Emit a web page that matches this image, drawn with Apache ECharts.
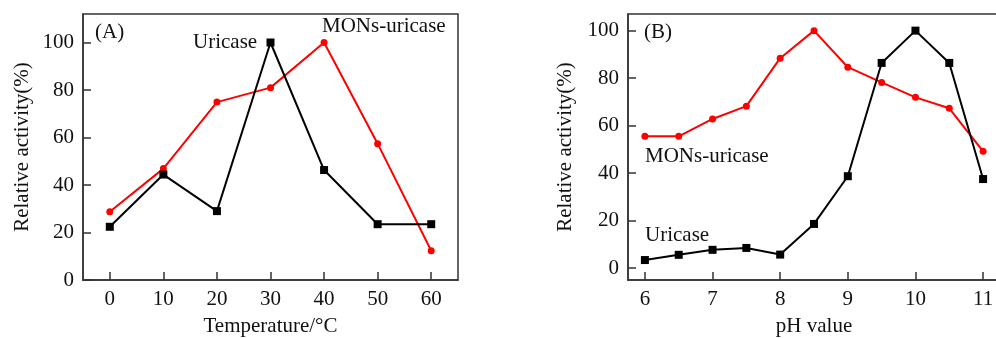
<!DOCTYPE html>
<html>
<head>
<meta charset="utf-8">
<script src="https://cdn.jsdelivr.net/npm/echarts@6/dist/echarts.min.js"></script>
<style>
html, body { margin: 0; padding: 0; background: #fff; }
#chart { width: 996px; height: 338px; }
</style>
</head>
<body>
<div id="chart"></div>
<script>
// panel A: temperature
var tempX = [0, 10, 20, 30, 40, 50, 60];
var tempUricase = [22.4, 44.4, 29.0, 100, 46.3, 23.5, 23.5];
var tempMons = [28.7, 46.9, 74.9, 81.0, 100, 57.4, 12.3];
var tempTicks = [0, 10, 20, 30, 40, 50, 60];

// panel B: pH
var phX = [6, 6.5, 7, 7.5, 8, 8.5, 9, 9.5, 10, 10.5, 11];
var phUricase = [3.4, 5.6, 7.7, 8.5, 5.7, 18.6, 38.7, 86.4, 100, 86.4, 37.5];
var phMons = [55.5, 55.5, 62.8, 68.2, 88.4, 100, 84.6, 78.2, 71.9, 67.3, 49.2];
var phTicks = [6, 7, 8, 9, 10, 11];

var yTicks = [0, 20, 40, 60, 80, 100];

function pairs(xs, ys) {
    return xs.map(function (x, i) { return [x, ys[i]]; });
}

var font = 'Liberation Serif';
var axisColor = '#333';

function xAxisOf(idx, min, max, ticks, name) {
    return {
        type: 'value', gridIndex: idx, min: min, max: max,
        name: name, nameLocation: 'middle', nameGap: 36,
        nameTextStyle: {fontFamily: font, fontSize: 21, color: '#111'},
        splitLine: {show: false},
        axisLine: {onZero: false, lineStyle: {color: axisColor, width: 1.5}},
        axisTick: {inside: true, length: 8, customValues: ticks, lineStyle: {color: axisColor, width: 1.5}},
        axisLabel: {customValues: ticks, margin: 9, fontFamily: font, fontSize: 21, color: '#111'}
    };
}

function yAxisOf(idx, min, max, gap) {
    return {
        type: 'value', gridIndex: idx, min: min, max: max,
        name: 'Relative activity(%)', nameLocation: 'middle', nameGap: gap,
        nameTextStyle: {fontFamily: font, fontSize: 21, color: '#111'},
        splitLine: {show: false},
        axisLine: {onZero: false, lineStyle: {color: axisColor, width: 1.5}},
        axisTick: {inside: true, length: 8, customValues: yTicks, lineStyle: {color: axisColor, width: 1.5}},
        axisLabel: {customValues: yTicks, margin: 9, fontFamily: font, fontSize: 21, color: '#111'}
    };
}

function lineOf(name, x, y, idx, color, symbol, size) {
    return {
        name: name, type: 'line', xAxisIndex: idx, yAxisIndex: idx,
        data: pairs(x, y), symbol: symbol, symbolSize: size,
        lineStyle: {color: color, width: 2},
        itemStyle: {color: color},
        z: symbol === 'rect' ? 3 : 2
    };
}

function label(text, x, y) {
    return {type: 'text', left: x, top: y,
        style: {text: text, font: '21px "Liberation Serif"', fill: '#111'}};
}

var myChart = echarts.init(document.getElementById('chart'));
var option = {
    animation: false,
    grid: [
        {left: 83, top: 14, width: 375, height: 266, outerBoundsMode: 'none', show: true, borderColor: axisColor, borderWidth: 1.5},
        {left: 628, top: 14, width: 372, height: 266, outerBoundsMode: 'none', show: true, borderColor: axisColor, borderWidth: 1.5}
    ],
    xAxis: [
        xAxisOf(0, -5, 65, tempTicks, 'Temperature/°C'),
        xAxisOf(1, 5.75, 11.25, phTicks, 'pH value')
    ],
    yAxis: [
        yAxisOf(0, 0, 112, 50),
        yAxisOf(1, -5, 107, 52)
    ],
    series: [
        lineOf('MONs-uricase', tempX, tempMons, 0, '#ff0000', 'circle', 7),
        lineOf('Uricase', tempX, tempUricase, 0, '#000', 'rect', 8),
        lineOf('MONs-uricase', phX, phMons, 1, '#ff0000', 'circle', 7),
        lineOf('Uricase', phX, phUricase, 1, '#000', 'rect', 8)
    ],
    graphic: [
        label('(A)', 95, 22),
        label('Uricase', 193, 32),
        label('MONs-uricase', 322, 16),
        label('(B)', 644, 22),
        label('MONs-uricase', 645, 146),
        label('Uricase', 645, 225)
    ]
};
myChart.setOption(option);
</script>
</body>
</html>
